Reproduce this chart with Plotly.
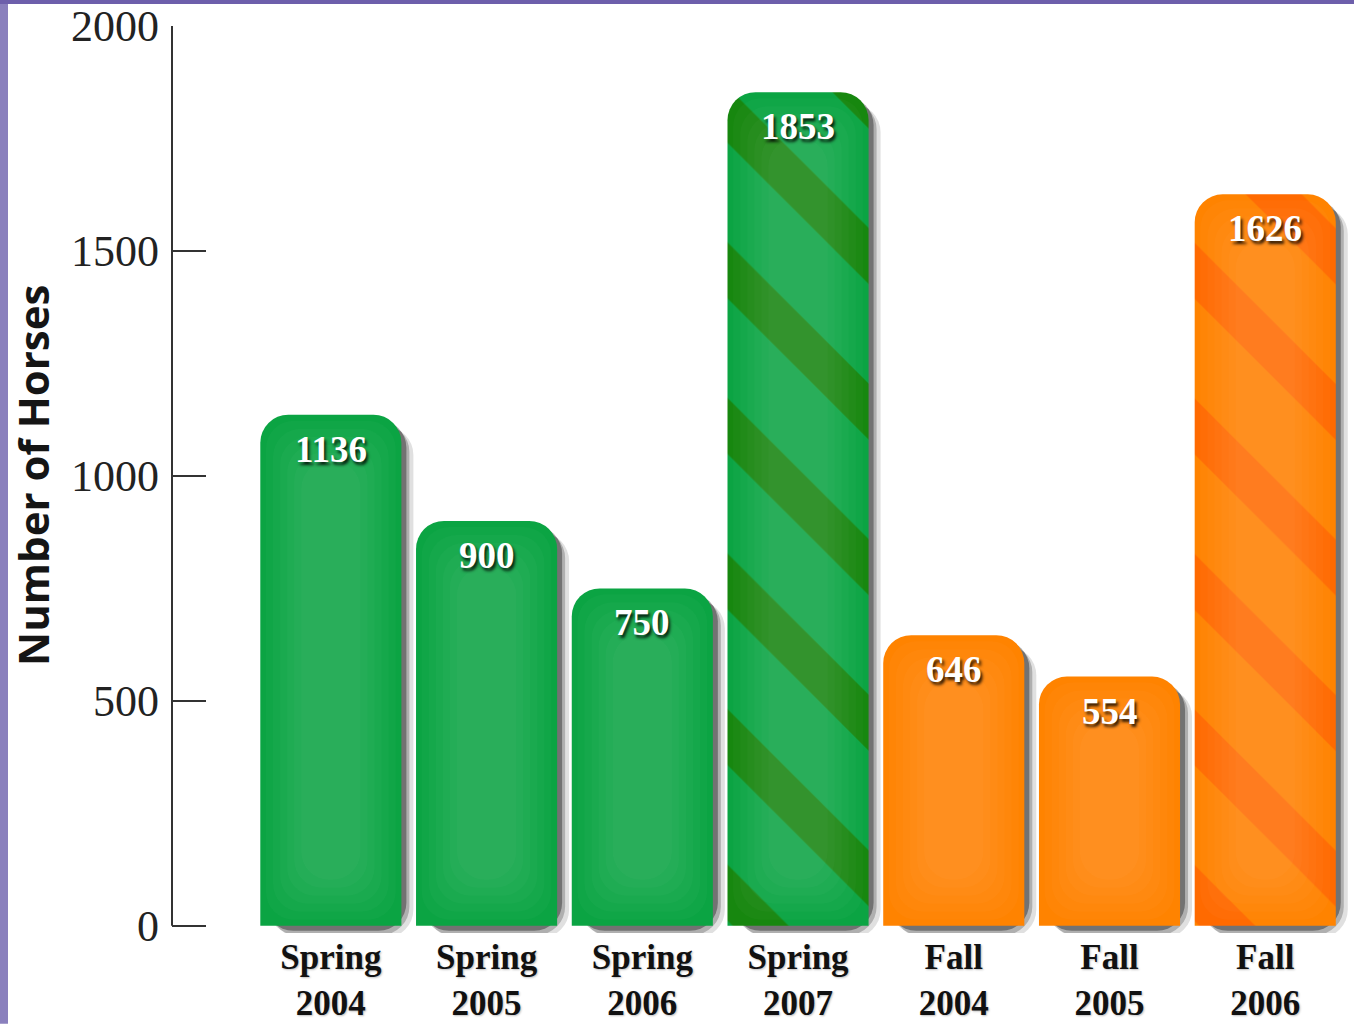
import plotly.graph_objects as go

# ---- data ----
categories = ["Spring<br>2004", "Spring<br>2005", "Spring<br>2006", "Spring<br>2007",
              "Fall<br>2004", "Fall<br>2005", "Fall<br>2006"]
values = [1136, 900, 750, 1853, 646, 554, 1626]
seasons = ["Spring", "Spring", "Spring", "Spring", "Fall", "Fall", "Fall"]
striped = [False, False, False, True, False, False, True]
y_ticks = [0, 500, 1000, 1500, 2000]

# ---- styling ----
W, H = 1354, 1024
SCALE_Y = 0.45             # px per unit
Y_RANGE = [-16, 2000]
ML, MR, MT = 172, 0, 26
PLOT_H = (Y_RANGE[1] - Y_RANGE[0]) * SCALE_Y
MB = H - MT - PLOT_H
PLOT_W = W - ML - MR
X_RANGE = [-1.02, 6.57]
PX_X = (X_RANGE[1] - X_RANGE[0]) / PLOT_W
PX_Y = 1 / SCALE_Y
BAR_W = 0.906
RADIUS = 28

fill = {"Spring": "#0ba443", "Fall": "#ff8300"}
stripe = {"Spring": "#17870f", "Fall": "#ff6a00"}

x_pos = list(range(len(values)))

fig = go.Figure()

# soft drop shadows
for dx, dy, alpha in [(12, 12, 0.12), (8, 9, 0.22), (5, 5, 0.35)]:
    fig.add_trace(go.Bar(
        x=x_pos, y=values, base=-dy * PX_Y, width=BAR_W,
        offset=-BAR_W / 2 + dx * PX_X,
        marker=dict(color=f"rgba(0,0,0,{alpha})", cornerradius=RADIUS, line=dict(width=0)),
        hoverinfo="skip", showlegend=False,
    ))

# main bars
for i, (v, s, st) in enumerate(zip(values, seasons, striped)):
    marker = dict(color=fill[s], cornerradius=RADIUS, line=dict(width=0))
    if st:
        marker["pattern"] = dict(shape="\\", size=110, solidity=0.36,
                                 fgcolor=stripe[s], bgcolor=fill[s], fillmode="replace")
    fig.add_trace(go.Bar(
        x=[x_pos[i]], y=[v], width=BAR_W, offset=-BAR_W / 2,
        marker=marker, showlegend=False, name=categories[i].replace("<br>", " "),
    ))

# soft centre highlight (gradient look)
for frac, inset in [(0.92, 6), (0.82, 14), (0.72, 22), (0.62, 30), (0.52, 38), (0.42, 46)]:
    w = BAR_W * frac
    fig.add_trace(go.Bar(
        x=x_pos, y=[v - 2 * inset * PX_Y for v in values], base=inset * PX_Y,
        width=w, offset=-w / 2,
        marker=dict(color="rgba(255,255,255,0.022)", cornerradius=RADIUS, line=dict(width=0)),
        hoverinfo="skip", showlegend=False,
    ))

# value labels inside bars
for i, v in enumerate(values):
    fig.add_annotation(
        x=x_pos[i], y=v, xref="x", yref="y", text=f"<b>{v}</b>",
        showarrow=False, yanchor="top", yshift=-12,
        font=dict(family="Liberation Serif", size=37, color="white",
                  shadow="2px 3px 3px rgba(0,0,0,0.8)"),
    )

# axis title
fig.add_annotation(
    x=(33 - ML) / PLOT_W, xref="paper", xanchor="center", y=1000, yref="y",
    yanchor="middle", text="<b>Number of Horses</b>", textangle=-90, showarrow=False,
    font=dict(family="Open Sans", size=42, color="#151515"),
)

# y axis line from 0 to 2000
fig.add_shape(type="line", xref="paper", yref="y", x0=0, x1=0,
              y0=y_ticks[0], y1=y_ticks[-1], line=dict(color="#333333", width=2))

# purple frame edges
fig.add_shape(type="rect", xref="paper", yref="paper", layer="above",
              x0=-ML / PLOT_W, x1=(-ML + 8) / PLOT_W, y0=-MB / PLOT_H, y1=1 + MT / PLOT_H,
              fillcolor="#8a80bd", line=dict(width=0))
fig.add_shape(type="rect", xref="paper", yref="paper", layer="above",
              x0=-ML / PLOT_W, x1=1 + MR / PLOT_W, y0=1 + (MT - 4) / PLOT_H, y1=1 + MT / PLOT_H,
              fillcolor="#6d5fab", line=dict(width=0))

fig.update_layout(
    width=W, height=H, margin=dict(l=ML, r=MR, t=MT, b=MB, pad=0),
    paper_bgcolor="white", plot_bgcolor="white",
    barmode="overlay", showlegend=False,
    xaxis=dict(range=X_RANGE, tickvals=x_pos, ticktext=categories, ticks="",
               showgrid=False, zeroline=False, showline=False,
               tickfont=dict(family="Liberation Serif", size=35, color="#111111",
                             weight="bold", shadow="1px 1px 2px rgba(0,0,0,0.25)")),
    yaxis=dict(range=Y_RANGE, tickvals=y_ticks, ticks="inside", ticklen=34,
               tickwidth=2, tickcolor="#333333", showgrid=False, zeroline=False,
               showline=False, ticklabelstandoff=12,
               tickfont=dict(family="Liberation Serif", size=44, color="#222222")),
)

fig.write_html("out.html", config={"displayModeBar": False},
               post_script="document.body.style.margin='0';document.body.style.overflow='hidden';")
